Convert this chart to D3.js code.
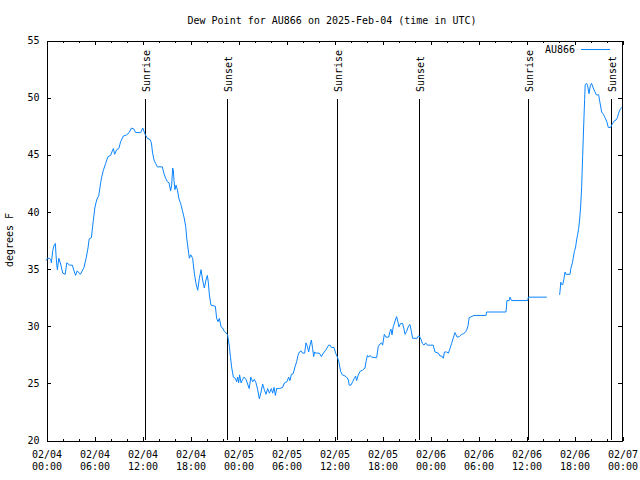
<!DOCTYPE html>
<html><head><meta charset="utf-8">
<script src="https://cdn.jsdelivr.net/npm/d3@7"></script>
<style>
body{margin:0;background:#fff}
text{font-family:"DejaVu Sans Mono","Liberation Mono",monospace;font-size:10px;fill:#000}
</style>
</head><body><svg id="c" width="640" height="480"></svg>
<script>
const titleText = "Dew Point for AU866 on 2025-Feb-04 (time in UTC)";
const yLabel = "degrees F";
const seriesName = "AU866";
const baseTime = Date.UTC(2025, 1, 4, 0, 0);

// hours since 02/04 00:00 UTC
const hours = [0.0,0.2,0.4,0.6,0.67,0.85,1.04,1.17,1.25,1.33,1.42,1.6,1.83,2.1,2.4,2.6,2.96,3.3,3.5,3.7,3.9,4.3,4.75,5.04,5.25,5.4,5.67,5.9,6.1,6.33,6.6,6.83,6.96,7.17,7.46,7.75,8.08,8.29,8.42,8.58,8.83,9.1,9.33,9.67,10.08,10.4,10.67,11.0,11.2,11.83,12.1,12.25,12.42,12.67,13.0,13.17,13.33,13.5,13.7,13.92,14.54,14.75,14.96,15.17,15.38,15.58,15.71,15.83,15.92,16.0,16.12,16.25,16.42,16.62,16.83,17.04,17.25,17.46,17.6,17.75,17.92,18.1,18.33,18.54,18.75,18.96,19.17,19.38,19.58,19.79,20.0,20.17,20.29,20.42,20.62,21.17,21.33,21.5,21.67,21.88,22.08,22.29,22.5,22.7,22.92,23.05,23.2,23.42,23.67,23.83,23.96,24.08,24.2,24.38,24.58,24.75,25.0,25.2,25.4,25.6,25.83,26.04,26.25,26.46,26.67,26.88,27.08,27.29,27.5,27.71,27.92,28.17,28.33,28.5,28.67,28.83,29.17,29.58,29.8,30.12,30.33,30.5,30.67,30.9,31.08,31.33,31.5,31.67,31.88,32.08,32.33,32.5,32.67,32.83,33.0,33.17,33.33,33.46,33.58,33.75,34.17,34.42,34.67,35.0,35.33,35.5,35.67,36.0,36.2,36.4,36.6,36.83,37.04,37.38,37.58,37.8,37.9,38.12,38.33,38.54,38.7,38.83,39.04,39.25,39.54,39.88,40.0,40.17,40.33,40.5,40.7,41.33,41.54,41.75,41.96,42.08,42.29,42.5,42.83,43.0,43.12,43.25,43.4,43.5,43.67,43.83,44.0,44.12,44.33,44.58,44.75,44.88,45.08,45.33,45.5,45.67,45.83,46.4,46.54,46.67,46.88,47.04,47.25,47.46,47.67,48.4,48.62,49.04,49.25,49.46,49.67,49.8,50.08,50.3,50.5,50.7,50.9,51.12,51.25,51.4,51.67,51.96,52.17,52.38,52.58,52.75,52.9,53.5,55.0,55.08,57.5,57.62,57.9,58.0,58.2,60.2,60.3,62.6,63.4,64.2,64.25,64.35,64.46,64.6,64.75,64.88,65.0,65.5,65.6,65.8,65.9,66.05,66.2,66.33,66.46,66.58,66.7,66.83,66.96,67.08,67.2,67.33,67.4,67.58,67.7,67.88,68.04,68.2,68.4,68.6,68.8,69.08,69.25,69.46,69.67,69.88,70.08,70.29,70.58,70.75,71.0,71.25,71.42,71.58,71.75,71.95];

const dewPoint = [35.7,35.9,35.9,35.8,35.5,36.6,37.1,37.2,36.2,35.5,34.9,35.9,35.4,34.6,34.5,35.5,35.3,35.3,34.8,34.4,34.8,34.5,35.1,36.0,36.8,37.6,37.7,39.1,40.3,41.0,41.4,42.5,43.0,43.6,44.2,44.8,44.9,45.3,45.5,45.0,45.4,45.5,46.1,46.6,46.7,46.9,47.3,47.2,46.9,46.9,47.3,47.0,46.7,46.4,46.3,46.0,45.1,44.5,44.2,43.9,43.9,43.3,42.9,42.6,42.5,41.8,42.3,43.8,43.6,42.7,41.9,42.3,41.9,41.1,40.7,40.1,39.5,38.7,37.6,36.8,35.9,36.2,35.9,34.6,33.7,33.1,34.15,34.9,34.0,33.3,34.0,34.4,33.8,32.7,31.8,31.7,30.65,30.35,30.65,29.9,29.8,29.5,29.4,29.2,28.2,27.3,26.4,25.5,25.4,25.1,25.5,25.0,25.7,25.0,25.3,25.5,25.3,24.9,24.5,25.5,25.1,25.3,25.0,24.4,23.6,24.2,24.9,24.4,24.0,24.5,24.1,24.5,24.1,24.6,23.9,24.5,24.5,24.6,25.0,25.1,25.5,25.2,25.75,25.8,26.3,26.85,27.4,27.7,27.8,27.6,27.6,28.5,28.2,27.7,28.3,28.75,28.0,27.3,27.7,27.6,27.6,27.3,27.6,27.9,28.3,28.3,28.1,28.1,27.6,27.3,26.85,26.0,25.7,25.6,25.5,25.25,24.8,24.8,25.1,25.4,25.6,25.2,25.7,26.0,26.1,26.3,26.85,27.4,27.25,27.4,27.25,27.2,28.2,28.4,28.5,28.3,29.25,29.0,29.0,29.5,29.7,29.2,29.9,30.1,30.5,30.8,30.3,29.9,30.2,30.2,29.7,29.25,29.5,30.0,30.1,29.5,28.9,28.9,29.1,29.1,28.8,28.45,28.3,28.5,28.3,28.3,27.7,27.6,27.35,27.35,27.15,27.7,27.7,27.6,28.0,28.45,28.9,29.4,29.2,29.0,29.05,29.25,29.3,29.4,29.6,30.0,30.7,30.9,30.9,31.2,31.2,32.2,32.2,32.5,32.2,32.2,32.5,32.5,null,32.7,33.0,33.8,33.6,33.6,34.15,34.7,34.5,34.5,35.0,35.5,35.9,36.5,36.9,37.5,38.0,38.5,39.25,40.4,42.2,44.8,47.3,49.8,51.1,51.2,51.0,50.3,51.0,51.2,50.8,50.5,50.2,50.2,49.5,48.7,48.5,48.2,47.9,47.35,47.35,47.6,47.9,48.0,48.2,48.6,48.9,49.1];

const eventHours = [12.4, 22.66, 36.4, 46.66, 60.3, 70.66];
const eventLabels = ["Sunrise", "Sunset", "Sunrise", "Sunset", "Sunrise", "Sunset"];

const xTickHours = [0,6,12,18,24,30,36,42,48,54,60,66,72];
const xTickDates = ["02/04","02/04","02/04","02/04","02/05","02/05","02/05","02/05","02/06","02/06","02/06","02/06","02/07"];
const xTickTimes = ["00:00","06:00","12:00","18:00","00:00","06:00","12:00","18:00","00:00","06:00","12:00","18:00","00:00"];
const xMinorHours = d3.range(0, 73, 2);
const yTicks = [20,25,30,35,40,45,50,55];

const H = h => new Date(baseTime + h * 3600000);
const data = hours.map((h, i) => ({t: H(h), v: dewPoint[i]}));

const L = 46, R = 622, T = 40, B = 440;
const x = d3.scaleUtc().domain([H(0), H(72)]).range([L, R]);
const y = d3.scaleLinear().domain([20, 55]).range([B, T]);

const svg = d3.select("#c");
svg.append("rect").attr("width",640).attr("height",480).attr("fill","#fff");

// title
svg.append("text").attr("x", 332).attr("y", 24).attr("text-anchor","middle").text(titleText);
// y label
svg.append("text").attr("transform","translate(13,240) rotate(-90)").attr("text-anchor","middle").text(yLabel);

const ax = svg.append("g").attr("shape-rendering","crispEdges");

// bottom major with labels
const gB = ax.append("g").attr("transform",`translate(0.5,${B+0.5})`)
  .call(d3.axisBottom(x).tickValues(xTickHours.map(H)).tickSizeInner(-4).tickSizeOuter(0).tickFormat((d,i)=>xTickDates[i]));
gB.selectAll(".tick text").each(function(d,i){
  const t = d3.select(this); t.text(null).attr("dy",null).attr("y",null);
  t.append("tspan").attr("x",0).attr("y",17).text(xTickDates[i]);
  t.append("tspan").attr("x",0).attr("y",29).text(xTickTimes[i]);
});
// bottom minor
ax.append("g").attr("transform",`translate(0.5,${B+0.5})`)
  .call(d3.axisBottom(x).tickValues(xMinorHours.map(H)).tickSizeInner(-2).tickSizeOuter(0).tickFormat(""));
// top ticks
ax.append("g").attr("transform",`translate(0.5,${T+0.5})`)
  .call(d3.axisTop(x).tickValues(xTickHours.map(H)).tickSizeInner(-4).tickSizeOuter(0).tickFormat(""));
ax.append("g").attr("transform",`translate(0.5,${T+0.5})`)
  .call(d3.axisTop(x).tickValues(xMinorHours.map(H)).tickSizeInner(-2).tickSizeOuter(0).tickFormat(""));
// left
ax.append("g").attr("transform",`translate(${L+0.5},0.5)`)
  .call(d3.axisLeft(y).tickValues(yTicks).tickSizeInner(-4).tickSizeOuter(0).tickPadding(7).tickFormat(d3.format("d")));
// right
ax.append("g").attr("transform",`translate(${R-0.5},0.5)`)
  .call(d3.axisRight(y).tickValues(yTicks).tickSizeInner(-4).tickSizeOuter(0).tickFormat(""));

svg.selectAll(".domain, .tick line").attr("stroke","#000");
svg.selectAll(".tick text").attr("fill","#000").style("font-family",'"DejaVu Sans Mono",monospace').style("font-size","10px");

// events
const ev = svg.append("g");
eventHours.forEach((h,i)=>{
  const xe = Math.round(x(H(h))) + 0.5;
  ev.append("line").attr("x1",xe).attr("x2",xe).attr("y1",B).attr("y2",y(49.8))
    .attr("stroke","#000").attr("shape-rendering","crispEdges");
  ev.append("text").attr("transform",`translate(${xe+4.5},92) rotate(-90)`).text(eventLabels[i]);
});

// series
const line = d3.line().defined(d=>d.v!==null).x(d=>x(d.t)).y(d=>y(d.v));
svg.append("path").datum(data).attr("d",line).attr("fill","none").attr("stroke","#0a84ff").attr("stroke-width",1);

// legend
svg.append("text").attr("x",575).attr("y",53).attr("text-anchor","end").text(seriesName);
svg.append("line").attr("x1",581).attr("x2",610).attr("y1",49.5).attr("y2",49.5).attr("stroke","#0a84ff");
</script>
</body></html>
